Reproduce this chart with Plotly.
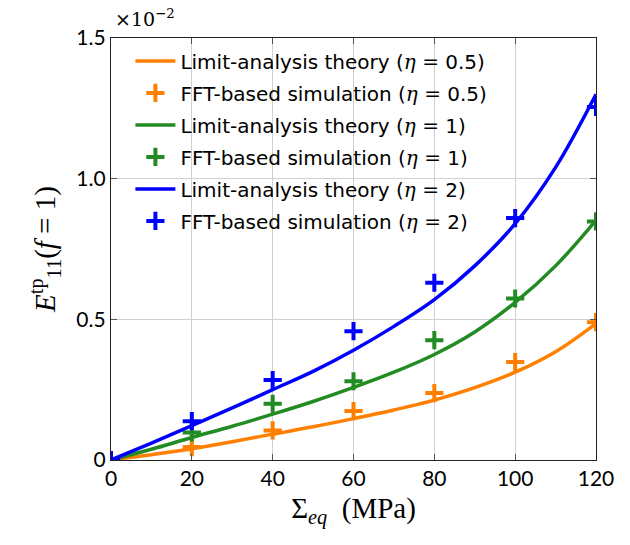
import plotly.graph_objects as go

# Equivalent stress (MPa)
sigma_line = [0, 10, 20, 30, 40, 50, 60, 70, 80, 90, 100, 110, 120]
sigma_fft = [0, 20, 40, 60, 80, 100, 120]

# Limit-analysis theory, E11 in units of 1e-2
theory_05 = [0, 0.019, 0.040, 0.065, 0.092, 0.118, 0.147, 0.178, 0.213, 0.257, 0.312, 0.385, 0.485]
theory_1 = [0, 0.038, 0.080, 0.120, 0.163, 0.208, 0.258, 0.312, 0.375, 0.455, 0.560, 0.690, 0.852]
theory_2 = [0, 0.060, 0.122, 0.185, 0.250, 0.315, 0.390, 0.475, 0.570, 0.690, 0.840, 1.040, 1.300]

# FFT-based simulation, E11 in units of 1e-2
fft_05 = [0, 0.046, 0.105, 0.174, 0.238, 0.348, 0.490]
fft_1 = [0, 0.098, 0.200, 0.280, 0.426, 0.574, 0.848]
fft_2 = [0, 0.138, 0.284, 0.458, 0.630, 0.860, 1.255]

y_ticks = [0, 0.5, 1.0, 1.5]
y_tick_text = ["0", "0.5", "1.0", "1.5"]
x_ticks = [0, 20, 40, 60, 80, 100, 120]

ORANGE = "rgb(255,128,0)"
GREEN = "rgb(34,139,34)"
BLUE = "rgb(0,0,255)"

series = [
    ("0.5", theory_05, fft_05, ORANGE),
    ("1", theory_1, fft_1, GREEN),
    ("2", theory_2, fft_2, BLUE),
]

SERIF = "Liberation Serif"


def eta_label(prefix, eta):
    return (f"{prefix} ("
            f"<span style='font-family:DejaVu Serif'><i>η</i> = </span>{eta})")


fig = go.Figure()
for k, (eta, th, ff, col) in enumerate(series):
    fig.add_trace(go.Scatter(
        x=sigma_line, y=th, mode="lines", line=dict(color=col, width=3.5, shape="spline"),
        name=eta_label("Limit-analysis theory", eta), legendgroup=f"g{2 * k}",
    ))
    fig.add_trace(go.Scatter(
        x=sigma_fft, y=ff, mode="markers",
        marker=dict(symbol="cross-thin", size=13, line=dict(color=col, width=4)),
        name=eta_label("FFT-based simulation", eta), legendgroup=f"g{2 * k + 1}",
    ))

fig.add_annotation(
    x=0, y=1.0, xref="paper", yref="paper", xanchor="left", yanchor="bottom",
    yshift=6, xshift=2, showarrow=False,
    text="×10<sup>−2</sup>", font=dict(family="DejaVu Serif", size=19, color="black"),
)

axis_common = dict(
    showline=True, linecolor="#222", linewidth=1.2, mirror="ticks",
    ticks="inside", ticklen=6, tickcolor="#555",
    showgrid=True, gridcolor="#d0d0d0", gridwidth=1, zeroline=False,
    tickfont=dict(family="Lato", size=21, color="black"),
)

fig.update_layout(
    width=630, height=545,
    margin=dict(l=111, r=34, t=38, b=85),
    plot_bgcolor="white", paper_bgcolor="white",
    showlegend=True,
    legend=dict(
        x=0.04, y=0.992, xanchor="left", yanchor="top",
        bgcolor="rgba(255,255,255,0)", borderwidth=0,
        font=dict(family="DejaVu Sans", size=20, color="black"),
        itemwidth=40, tracegroupgap=3,
    ),
    xaxis=dict(
        range=[0, 120], tickvals=x_ticks,
        title=dict(text="Σ<sub><i>eq</i></sub>  (MPa)", font=dict(family=SERIF, size=29, color="black"), standoff=8),
        **axis_common,
    ),
    yaxis=dict(
        range=[0, 1.5], tickvals=y_ticks, ticktext=y_tick_text,
        title=dict(text="<i>E</i><sup>tp</sup><sub>11</sub>(<i>f</i> = 1)", font=dict(family=SERIF, size=29, color="black"), standoff=12),
        **axis_common,
    ),
)

fig.write_html("out.html")
